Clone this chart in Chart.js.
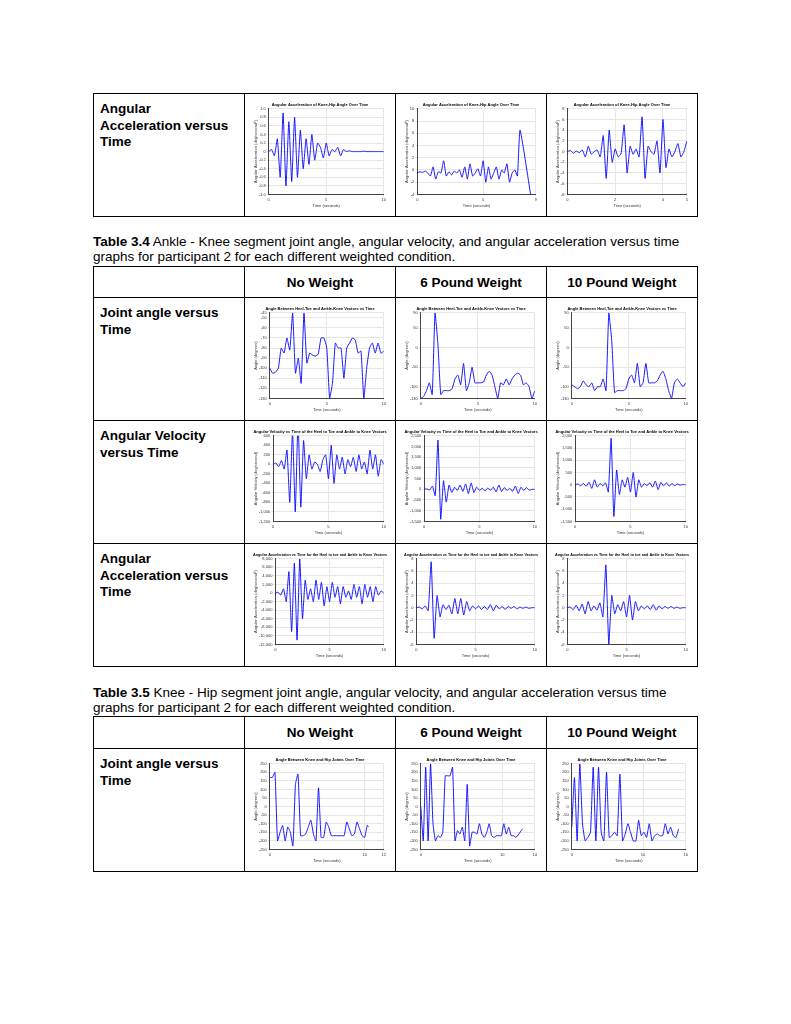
<!DOCTYPE html>
<html>
<head>
<meta charset="utf-8">
<script src="https://cdn.jsdelivr.net/npm/chart.js@4.4.0/dist/chart.umd.min.js"></script>
<style>
body { margin:0; background:#fff; font-family: "Liberation Sans", Arial, sans-serif; }
.tbl { position:absolute; left:93px; border-collapse:collapse; table-layout:fixed; }
.tbl td { border:1px solid #000; padding:0; vertical-align:top; }
.lbl { font-weight:bold; font-size:13.5px; line-height:16.5px; padding:7px 6px !important; }
.hd { font-weight:bold; font-size:13.5px; text-align:center; vertical-align:middle !important; }
.cap { position:absolute; left:93px; width:610px; font-size:13.5px; line-height:14.5px; }
.box { position:relative; width:150px; height:121px; }
.box canvas { position:absolute; left:8px; top:8px; }
</style>
</head>
<body>
<script>
// time axes
let t10 = [0,0.25,0.5,0.75,1,1.25,1.5,1.75,2,2.25,2.5,2.75,3,3.25,3.5,3.75,4,4.25,4.5,4.75,5,5.25,5.5,5.75,6,6.25,6.5,6.75,7,7.25,7.5,7.75,8,8.25,8.5,8.75,9,9.25,9.5,9.75,10]
let t8 = [0,0.2,0.4,0.6,0.8,1,1.2,1.4,1.6,1.8,2,2.2,2.4,2.6,2.8,3,3.2,3.4,3.6,3.8,4,4.2,4.4,4.6,4.8,5,5.2,5.4,5.6,5.8,6,6.2,6.4,6.6,6.8,7,7.2,7.4,7.6,7.8,8.6]
let t5 = [0,0.125,0.25,0.375,0.5,0.625,0.75,0.875,1,1.125,1.25,1.375,1.5,1.625,1.75,1.875,2,2.125,2.25,2.375,2.5,2.625,2.75,2.875,3,3.125,3.25,3.375,3.5,3.625,3.75,3.875,4,4.125,4.25,4.375,4.5,4.625,4.75,4.875,5]
let t12 = [0,0.3,0.6,0.9,1.2,1.5,1.8,2.1,2.4,2.7,3,3.3,3.6,3.9,4.2,4.5,4.8,5.1,5.4,5.7,6,6.3,6.6,6.9,7.2,7.5,7.8,8.1,8.4,8.7,9,9.3,9.6,9.9,10.2,10.5,10.8,11.1,11.4,11.7,12.5]
let t15 = [0,0.375,0.75,1.125,1.5,1.875,2.25,2.625,3,3.375,3.75,4.125,4.5,4.875,5.25,5.625,6,6.375,6.75,7.125,7.5,7.875,8.25,8.625,9,9.375,9.75,10.125,10.5,10.875,11.25,11.625,12,12.375,12.75,13.125,13.5,13.875,14.25,14.625,15]
let t10b = [0,0.27,0.54,0.81,1.08,1.35,1.62,1.89,2.16,2.43,2.7,2.97,3.24,3.51,3.78,4.05,4.32,4.59,4.86,5.13,5.4,5.67,5.94,6.21,6.48,6.75,7.02,7.29,7.56,7.83,8.1,8.37,8.64,8.91,9.18,9.45,9.72,9.99,10.26,10.4]

// Table 3.3 (continued) - knee-hip angular acceleration (x10^4)
let khAccNW = [0,0.05,-0.1,0.3,-0.6,0.9,-0.8,0.7,-0.7,0.8,-0.6,0.5,-0.4,0.3,-0.3,0.4,-0.2,0.2,0.1,-0.15,0.2,-0.1,0.05,0,0.1,-0.1,0.05,0,0.02,0,0,0,0,0.01,0,0,0,0,0,0,0]
let khAcc6 = [-0.5,-0.3,-0.4,-0.2,-0.5,-1,0.5,-1.5,-0.3,-0.5,1.5,-1,-0.3,-0.8,-0.2,-0.5,0,-1.2,0.5,-1.5,1,-1,-0.5,0.2,-1,1.5,-2,0.5,-1.5,-0.5,0.5,-1.5,0,-0.5,1,-2,-0.5,0,-1,6.5,-4]
let khAcc10 = [0,0.2,-0.3,0.1,-0.2,0.3,-1,1,-0.5,0,0.3,-1,3,-5,4,-2,0.5,-1,-0.3,5,-4,1,-0.5,0.5,-1,6.5,-5,1,0,-0.5,2,-4,6,-3,0.5,-1,0,1.5,-1,0,2]

// Table 3.4 - ankle-knee
let akAngNW = [-100,-105,-104,-100,-80,-85,-70,-82,-45,-105,-90,-115,-45,-95,-85,-87,-88,-86,-70,-70,-80,-130,-115,-75,-80,-80,-110,-80,-75,-70,-72,-85,-83,-130,-100,-80,-75,-85,-75,-85,-83]
let akAng6 = [-130,-125,-110,-90,-120,90,10,-120,-110,-110,-110,-105,-80,-70,-95,-40,-110,-90,-50,-90,-90,-90,-88,-70,-60,-70,-100,-130,-90,-95,-80,-95,-80,-70,-65,-70,-95,-90,-100,-130,-110]
let akAng10 = [-95,-100,-105,-100,-85,-95,-100,-90,-110,-100,-100,-80,-110,90,20,-115,-110,-110,-110,-105,-80,-70,-90,-40,-100,-90,-40,-90,-90,-90,-85,-70,-60,-80,-110,-130,-90,-80,-90,-100,-90]
let akVelNW = [0,30,-50,80,-100,300,-800,700,-1000,900,-900,500,-300,200,-100,50,0,-150,100,200,-300,400,-400,200,-100,150,-200,100,-50,150,-150,200,-100,50,-200,300,-100,200,-250,100,0]
let akVel6 = [0,20,-30,150,-300,2300,-1400,400,-600,200,-150,100,-50,200,-100,250,-200,300,-150,100,-50,50,-80,60,-40,100,-120,200,-100,80,-60,50,-100,150,-200,100,-50,80,-40,0,0]
let akVel10 = [0,30,-40,50,-60,100,-150,200,-100,50,-50,80,-300,1900,-1300,600,-400,200,-100,300,-300,500,-500,200,-100,50,-40,80,-100,150,-200,100,-50,80,-60,50,-40,30,-20,10,0]
let akAccNW = [0,200,-500,1000,-2000,5000,-9000,7000,-11000,8000,-6000,3000,-1500,1000,-2000,3000,-1500,2500,-3000,1500,-2000,2500,-1000,1500,-2500,1500,-1000,500,-1500,2000,-1000,1500,-2500,2000,-1000,1500,-2000,1500,-500,500,0]
let akAcc6 = [0,0.1,-0.2,0.3,-0.5,7.5,-5,2,-1.5,0.5,-0.3,0.4,-1,1.5,-1,1.5,-1.2,1,-0.5,0.3,-0.2,0.3,-0.3,0.2,-0.3,0.5,-0.5,0.4,-0.2,0.2,-0.3,0.2,-0.1,0.2,-0.2,0.1,-0.1,0.1,-0.1,0,0]
let akAcc10 = [0,0.1,-0.3,0.4,-0.5,0.6,-1,1,-0.5,0.3,-0.4,0.8,-1.5,7,-6,2,-1,0.5,-0.5,1,-1.5,2,-2,1,-0.5,0.3,-0.2,0.3,-0.3,0.5,-0.4,0.3,-0.2,0.2,-0.1,0.2,-0.1,0.1,-0.1,0,0]

// Table 3.5 - knee-hip angle
let khAngNW = [170,170,200,-200,-150,-110,-200,-120,-150,-230,130,190,-170,-170,-160,-120,-80,-160,-200,110,-180,-180,-90,-120,-170,-170,-170,-170,-170,-170,-90,-130,-170,-160,-90,-130,-170,-180,-110,-120]
let khAng6 = [0,-200,230,-200,250,-100,-200,-170,-180,-150,180,180,180,230,-200,-140,-160,-120,-200,130,-230,-150,-150,-160,-100,-160,-180,-150,-100,-170,-180,-170,-170,-170,-100,-160,-120,-170,-170,-180,-130]
let khAng10 = [-120,170,-200,250,-100,-200,-180,-150,230,-200,230,-150,-200,200,-180,-170,-150,-170,190,-200,-160,-100,-150,-200,-200,-80,-170,-150,-180,-100,-200,-170,-160,-170,-170,-100,-160,-120,-170,-180,-130]

let titleAccKH = 'Angular Acceleration of Knee-Hip Angle Over Time'
let titleAngAK = 'Angle Between Heel-Toe and Ankle-Knee Vectors vs Time'
let titleVelAK = 'Angular Velocity vs Time of the Heel to Toe and Ankle to Knee Vectors'
let titleAccAK = 'Angular Acceleration vs Time for the Heel to toe and Ankle to Knee Vectors'
let titleAngKH = 'Angle Between Knee and Hip Joints Over Time'
let yAcc = 'Angular Acceleration (deg/second²)'
let yVel = 'Angular Velocity (deg/second)'
let yAng = 'Angle (degrees)'

function cellHtml(id) {
	return '<div class="box"><canvas id="' + id + '" width="134" height="106"></canvas></div>'
}

function buildPage() {
	let html = ''
	// top table (continued from previous page)
	html += '<table class="tbl" style="top:93px"><colgroup><col style="width:151px"><col style="width:151px"><col style="width:151px"><col style="width:151px"></colgroup>'
	html += '<tr style="height:123px"><td class="lbl">Angular<br>Acceleration versus<br>Time</td><td>' + cellHtml('c1') + '</td><td>' + cellHtml('c2') + '</td><td>' + cellHtml('c3') + '</td></tr></table>'

	html += '<div class="cap" style="top:235px"><b>Table 3.4</b> Ankle - Knee segment joint angle, angular velocity, and angular acceleration versus time graphs for participant 2 for each different weighted condition.</div>'
	html += '<table class="tbl" style="top:266px"><colgroup><col style="width:151px"><col style="width:151px"><col style="width:151px"><col style="width:151px"></colgroup>'
	html += '<tr style="height:31px"><td></td><td class="hd">No Weight</td><td class="hd">6 Pound Weight</td><td class="hd">10 Pound Weight</td></tr>'
	html += '<tr style="height:123px"><td class="lbl">Joint angle versus<br>Time</td><td>' + cellHtml('c4') + '</td><td>' + cellHtml('c5') + '</td><td>' + cellHtml('c6') + '</td></tr>'
	html += '<tr style="height:123px"><td class="lbl">Angular Velocity<br>versus Time</td><td>' + cellHtml('c7') + '</td><td>' + cellHtml('c8') + '</td><td>' + cellHtml('c9') + '</td></tr>'
	html += '<tr style="height:123px"><td class="lbl">Angular<br>Acceleration versus<br>Time</td><td>' + cellHtml('c10') + '</td><td>' + cellHtml('c11') + '</td><td>' + cellHtml('c12') + '</td></tr></table>'

	html += '<div class="cap" style="top:686px"><b>Table 3.5</b> Knee - Hip segment joint angle, angular velocity, and angular acceleration versus time graphs for participant 2 for each different weighted condition.</div>'
	html += '<table class="tbl" style="top:716px"><colgroup><col style="width:151px"><col style="width:151px"><col style="width:151px"><col style="width:151px"></colgroup>'
	html += '<tr style="height:32px"><td></td><td class="hd">No Weight</td><td class="hd">6 Pound Weight</td><td class="hd">10 Pound Weight</td></tr>'
	html += '<tr style="height:123px"><td class="lbl">Joint angle versus<br>Time</td><td>' + cellHtml('c13') + '</td><td>' + cellHtml('c14') + '</td><td>' + cellHtml('c15') + '</td></tr></table>'
	document.body.insertAdjacentHTML('beforeend', html)
}

/***************************** small matlab-style chart *****************************/
function smallChart(id, title, ylabel, xs, ys, xmax, ymin, ymax) {
	let pts = []
	for (let i = 0; i < ys.length && i < xs.length; i++) pts.push({x: xs[i], y: ys[i]})
	Chart.defaults.font.size = 4
	Chart.defaults.font.family = '"Liberation Sans", Arial'
	new Chart(document.getElementById(id).getContext('2d'), {
		type: 'line',
		data: {
			datasets: [{
				data: pts,
				borderColor: '#0000ff',
				borderWidth: 0.9,
				pointRadius: 0,
				tension: 0.15,
				fill: false
			}]
		},
		options: {
			responsive: false,
			animation: false,
			plugins: {
				legend: { display: false },
				tooltip: { enabled: false },
				title: { display: true, text: title, color: '#000', font: { size: 4, weight: 'bold' }, padding: { top: 0, bottom: 2 } }
			},
			scales: {
				x: {
					type: 'linear', min: 0, max: xmax,
					grid: { color: '#e6e6e6', tickLength: 2 },
					border: { color: '#444' },
					ticks: { color: '#333', padding: 1, maxRotation: 0 },
					title: { display: true, text: 'Time (seconds)', color: '#333', font: { size: 4 }, padding: 0 }
				},
				y: {
					min: ymin, max: ymax,
					grid: { color: '#e6e6e6', tickLength: 2 },
					border: { color: '#444' },
					ticks: { color: '#333', padding: 1 },
					title: { display: true, text: ylabel, color: '#333', font: { size: 4 }, padding: 0 }
				}
			}
		}
	})
}

buildPage()
smallChart('c1', titleAccKH, yAcc, t10, khAccNW, 10, -1, 1)
smallChart('c2', titleAccKH, yAcc, t8, khAcc6, 9, -4, 10)
smallChart('c3', titleAccKH, yAcc, t5, khAcc10, 5, -8, 8)
smallChart('c4', titleAngAK, yAng, t10, akAngNW, 10, -130, -45)
smallChart('c5', titleAngAK, yAng, t10, akAng6, 10, -130, 90)
smallChart('c6', titleAngAK, yAng, t10, akAng10, 10, -130, 90)
smallChart('c7', titleVelAK, yVel, t10, akVelNW, 10, -1200, 600)
smallChart('c8', titleVelAK, yVel, t10, akVel6, 10, -1500, 2500)
smallChart('c9', titleVelAK, yVel, t10, akVel10, 10, -1500, 2000)
smallChart('c10', titleAccAK, yAcc, t10, akAccNW, 10, -12000, 8000)
smallChart('c11', titleAccAK, yAcc, t10, akAcc6, 10, -6, 8)
smallChart('c12', titleAccAK, yAcc, t10, akAcc10, 10, -6, 8)
smallChart('c13', titleAngKH, yAng, t10b, khAngNW, 12, -250, 250)
smallChart('c14', titleAngKH, yAng, t12, khAng6, 14, -250, 250)
smallChart('c15', titleAngKH, yAng, t15, khAng10, 16, -250, 250)
</script>
</body>
</html>
